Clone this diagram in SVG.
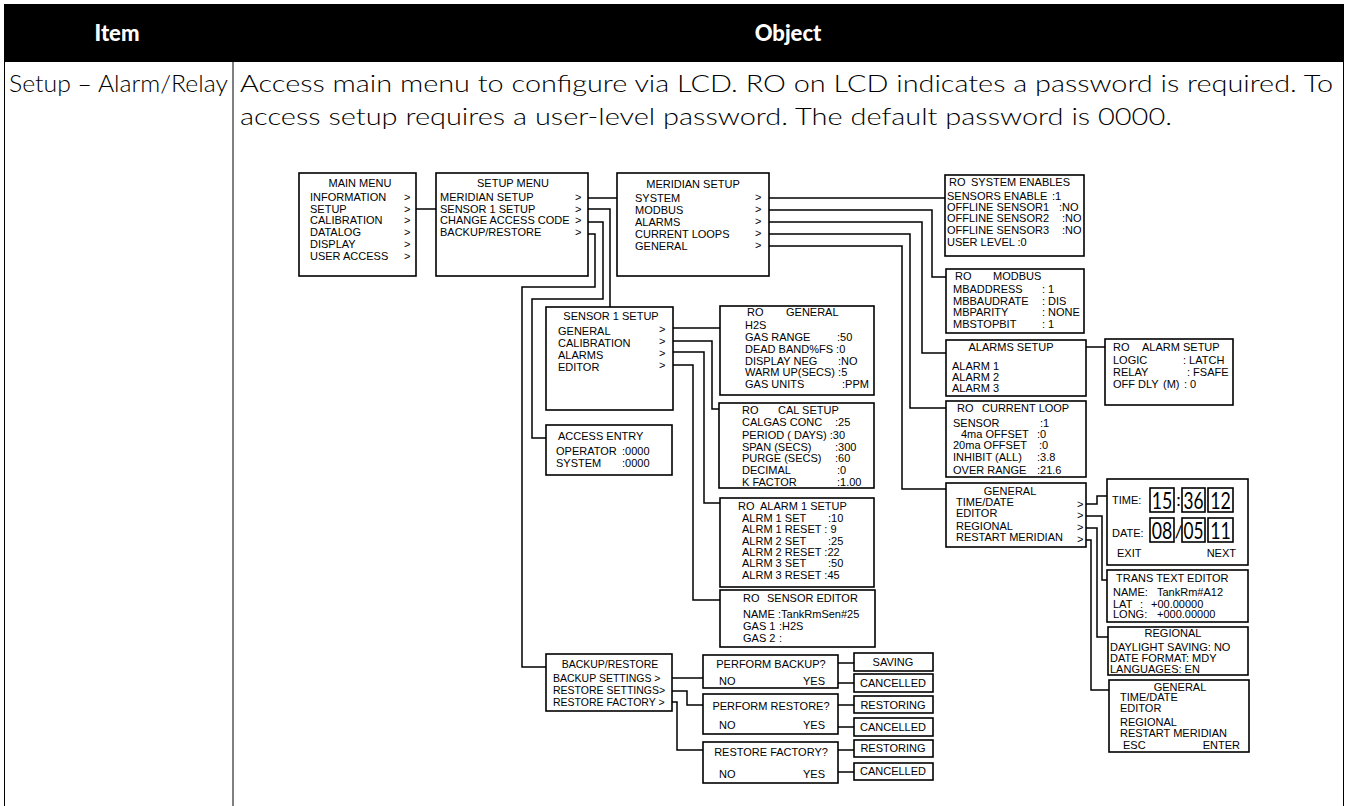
<svg xmlns="http://www.w3.org/2000/svg" width="1348" height="806" viewBox="0 0 1348 806">
<style>
.hd{font-family:Lato,"Liberation Sans",sans-serif;font-weight:900;font-size:22px;fill:#fff;text-anchor:middle}
.rw{font-family:Lato,"Liberation Sans",sans-serif;font-weight:300;font-size:23px;fill:#000}
text.t,.t text{font-family:"Liberation Sans",Arial,sans-serif;font-size:11px;fill:#000}
.m{text-anchor:middle}
.e{text-anchor:end}
.b{fill:#fff;stroke:#000;stroke-width:1.6}
.t text.dg{font-family:Lato,"Liberation Sans",sans-serif;font-weight:400;font-size:24px;fill:#000;text-anchor:middle}
.t text.sep{font-family:Lato,"Liberation Sans",sans-serif;font-size:18px;fill:#000;text-anchor:middle}
#connectors path{fill:none;stroke:#000;stroke-width:1.5}
.tb{stroke:#000;stroke-width:1;fill:none}
.sm text{font-size:10.5px}
</style>
<g id="table">
<rect x="4" y="4" width="1340" height="58" fill="#000"/>
<text class="hd" x="117" y="41">Item</text>
<text class="hd" x="788" y="41">Object</text>
<path class="tb" d="M4.5,62V806M233,62V806M1343.5,62V806"/>
<text class="rw" x="9" y="92" textLength="219" lengthAdjust="spacingAndGlyphs">Setup – Alarm/Relay</text>
<text class="rw" x="240" y="92" textLength="1093" lengthAdjust="spacingAndGlyphs">Access main menu to configure via LCD. RO on LCD indicates a password is required. To</text>
<text class="rw" x="240" y="125" textLength="932" lengthAdjust="spacingAndGlyphs">access setup requires a user-level password. The default password is 0000.</text>
</g>
<g id="connectors">
<path d="M416,209H436"/>
<path d="M588,198H617"/>
<path d="M588,209H610V307"/>
<path d="M588,222H603V299H532V438H546"/>
<path d="M588,234H595V287H522V667H546"/>
<path d="M769,198H945"/>
<path d="M769,210H932V277H946"/>
<path d="M769,222H922V353H946"/>
<path d="M769,234H910V408H946"/>
<path d="M769,246H902V489H946"/>
<path d="M1086,347H1105"/>
<path d="M673,328H720"/>
<path d="M673,341H712V409H719"/>
<path d="M673,352H704V503H720"/>
<path d="M673,365H693V600H720"/>
<path d="M1086,504H1097V496H1107"/>
<path d="M1086,516H1102V580H1107"/>
<path d="M1086,528H1097V637H1108"/>
<path d="M1086,540H1091V690H1109"/>
<path d="M672,678H703"/>
<path d="M672,691H687V705H703"/>
<path d="M672,702H677V750H703"/>
<path d="M838,663H854M838,683H854M838,705H854M838,727H854M838,750H854M838,772H854"/>
</g>
<g id="main-menu" class="t">
<rect class="b" x="299" y="173" width="117" height="103"/>
<text class="m" x="360" y="187">MAIN MENU</text>
<text x="310" y="201">INFORMATION</text><text x="404" y="201">&gt;</text>
<text x="310" y="212.5">SETUP</text><text x="404" y="212.5">&gt;</text>
<text x="310" y="224">CALIBRATION</text><text x="404" y="224">&gt;</text>
<text x="310" y="236">DATALOG</text><text x="404" y="236">&gt;</text>
<text x="310" y="248">DISPLAY</text><text x="404" y="248">&gt;</text>
<text x="310" y="259.5">USER ACCESS</text><text x="404" y="259.5">&gt;</text>
</g>
<g id="setup-menu" class="t">
<rect class="b" x="436" y="173" width="152" height="103"/>
<text class="m" x="513" y="187">SETUP MENU</text>
<text x="440" y="201">MERIDIAN SETUP</text><text x="575" y="201">&gt;</text>
<text x="440" y="212.5">SENSOR 1 SETUP</text><text x="575" y="212.5">&gt;</text>
<text x="440" y="224">CHANGE ACCESS CODE</text><text x="575" y="224">&gt;</text>
<text x="440" y="236">BACKUP/RESTORE</text><text x="575" y="236">&gt;</text>
</g>
<g id="meridian-setup" class="t">
<rect class="b" x="617" y="173" width="152" height="103"/>
<text class="m" x="693" y="188">MERIDIAN SETUP</text>
<text x="635" y="202">SYSTEM</text><text x="755" y="201">&gt;</text>
<text x="635" y="214">MODBUS</text><text x="755" y="213">&gt;</text>
<text x="635" y="226">ALARMS</text><text x="755" y="225">&gt;</text>
<text x="635" y="238">CURRENT LOOPS</text><text x="755" y="237">&gt;</text>
<text x="635" y="250">GENERAL</text><text x="755" y="249">&gt;</text>
</g>
<g id="system-enables" class="t">
<rect class="b" x="945" y="175" width="139" height="81"/>
<text x="949" y="186">RO</text><text x="971" y="186">SYSTEM ENABLES</text>
<text x="947" y="199.5">SENSORS ENABLE</text><text x="1052" y="199.5">:1</text>
<text x="947" y="211">OFFLINE SENSOR1</text><text x="1059" y="211">:NO</text>
<text x="947" y="222">OFFLINE SENSOR2</text><text x="1062" y="222">:NO</text>
<text x="947" y="234">OFFLINE SENSOR3</text><text x="1062" y="234">:NO</text>
<text x="947" y="246">USER LEVEL :0</text>
</g>
<g id="modbus" class="t">
<rect class="b" x="946" y="269" width="138" height="64"/>
<text x="955" y="280">RO</text><text x="993" y="280">MODBUS</text>
<text x="953" y="293">MBADDRESS</text><text x="1042" y="293">: 1</text>
<text x="953" y="305">MBBAUDRATE</text><text x="1042" y="305">: DIS</text>
<text x="953" y="316">MBPARITY</text><text x="1042" y="316">: NONE</text>
<text x="953" y="328">MBSTOPBIT</text><text x="1042" y="328">: 1</text>
</g>
<g id="alarms-setup" class="t">
<rect class="b" x="946" y="340" width="140" height="56"/>
<text class="m" x="1011" y="350.5">ALARMS SETUP</text>
<text x="952" y="370">ALARM 1</text>
<text x="952" y="381">ALARM 2</text>
<text x="952" y="392">ALARM 3</text>
</g>
<g id="ro-alarm-setup" class="t">
<rect class="b" x="1105" y="339" width="128" height="66"/>
<text x="1113" y="350.5">RO</text><text x="1142" y="350.5">ALARM SETUP</text>
<text x="1113" y="364">LOGIC</text><text x="1183" y="364">: LATCH</text>
<text x="1113" y="376">RELAY</text><text x="1187" y="376">: FSAFE</text>
<text x="1113" y="388">OFF DLY</text><text x="1163" y="388">(M)</text><text x="1184" y="388">: 0</text>
</g>
<g id="current-loop" class="t">
<rect class="b" x="946" y="401" width="140" height="76"/>
<text x="957" y="412">RO</text><text x="982" y="412">CURRENT LOOP</text>
<text x="953" y="427">SENSOR</text><text x="1040" y="427">:1</text>
<text x="961" y="438">4ma OFFSET</text><text x="1037" y="438">:0</text>
<text x="953" y="449">20ma OFFSET</text><text x="1039" y="449">:0</text>
<text x="953" y="461">INHIBIT (ALL)</text><text x="1037" y="461">:3.8</text>
<text x="953" y="474">OVER RANGE</text><text x="1037" y="474">:21.6</text>
</g>
<g id="general" class="t">
<rect class="b" x="946" y="483" width="140" height="64"/>
<text class="m" x="1010" y="495">GENERAL</text>
<text x="956" y="506">TIME/DATE</text><text x="1077" y="508">&gt;</text>
<text x="956" y="517">EDITOR</text><text x="1077" y="519">&gt;</text>
<text x="956" y="530">REGIONAL</text><text x="1077" y="531">&gt;</text>
<text x="956" y="541">RESTART MERIDIAN</text><text x="1077" y="543">&gt;</text>
</g>
<g id="time-date" class="t">
<rect class="b" x="1107" y="479" width="141" height="86"/>
<text x="1112" y="504">TIME:</text>
<text x="1112" y="537">DATE:</text>
<rect class="b" x="1150" y="488" width="24" height="24"/>
<rect class="b" x="1182" y="488" width="23" height="24"/>
<rect class="b" x="1208" y="488" width="25" height="24"/>
<rect class="b" x="1150" y="518" width="24" height="24"/>
<rect class="b" x="1182" y="518" width="23" height="24"/>
<rect class="b" x="1208" y="518" width="25" height="24"/>
<text class="dg" transform="translate(1162,509) scale(0.74,1)">15</text>
<text class="sep" x="1178.5" y="506">:</text>
<text class="dg" transform="translate(1193.5,509) scale(0.72,1)">36</text>
<text class="dg" transform="translate(1220.5,509) scale(0.74,1)">12</text>
<text class="dg" transform="translate(1162,539) scale(0.74,1)">08</text>
<text class="sep" x="1178.5" y="538">/</text>
<text class="dg" transform="translate(1193.5,539) scale(0.72,1)">05</text>
<text class="dg" transform="translate(1220.5,539) scale(0.74,1)">11</text>
<text x="1117" y="557">EXIT</text>
<text class="e" x="1236" y="557">NEXT</text>
</g>
<g id="trans-text-editor" class="t">
<rect class="b" x="1107" y="570" width="141" height="52"/>
<text x="1116" y="582">TRANS TEXT EDITOR</text>
<text x="1113" y="596">NAME:</text><text x="1157" y="596">TankRm#A12</text>
<text x="1113" y="608">LAT</text><text x="1140" y="608">:</text><text x="1151" y="608">+00.00000</text>
<text x="1113" y="618">LONG:</text><text x="1157" y="618">+000.00000</text>
</g>
<g id="regional" class="t">
<rect class="b" x="1108" y="627" width="140" height="48"/>
<text class="m" x="1173" y="637">REGIONAL</text>
<text x="1110" y="651">DAYLIGHT SAVING: NO</text>
<text x="1110" y="662">DATE FORMAT: MDY</text>
<text x="1110" y="673">LANGUAGES: EN</text>
</g>
<g id="general-2" class="t">
<rect class="b" x="1109" y="680" width="140" height="72"/>
<text class="m" x="1180" y="691">GENERAL</text>
<text x="1120" y="701">TIME/DATE</text>
<text x="1120" y="712">EDITOR</text>
<text x="1120" y="726">REGIONAL</text>
<text x="1120" y="737">RESTART MERIDIAN</text>
<text x="1123" y="749">ESC</text>
<text class="e" x="1240" y="749">ENTER</text>
</g>
<g id="sensor-1-setup" class="t">
<rect class="b" x="546" y="307" width="127" height="103"/>
<text class="m" x="611" y="320">SENSOR 1 SETUP</text>
<text x="558" y="335">GENERAL</text><text x="659" y="333">&gt;</text>
<text x="558" y="347">CALIBRATION</text><text x="659" y="345">&gt;</text>
<text x="558" y="359">ALARMS</text><text x="659" y="357">&gt;</text>
<text x="558" y="371">EDITOR</text><text x="659" y="369">&gt;</text>
</g>
<g id="ro-general" class="t">
<rect class="b" x="720" y="306" width="154" height="89"/>
<text x="747" y="316">RO</text><text x="786" y="316">GENERAL</text>
<text x="745" y="329">H2S</text>
<text x="745" y="341">GAS RANGE</text><text x="837" y="341">:50</text>
<text x="745" y="353">DEAD BAND%FS :0</text>
<text x="745" y="365">DISPLAY NEG</text><text x="838" y="365">:NO</text>
<text x="745" y="376">WARM UP(SECS) :5</text>
<text x="745" y="388">GAS UNITS</text><text x="842" y="388">:PPM</text>
</g>
<g id="cal-setup" class="t">
<rect class="b" x="719" y="403" width="155" height="85"/>
<text x="742" y="414">RO</text><text x="778" y="414">CAL SETUP</text>
<text x="742" y="426">CALGAS CONC</text><text x="835" y="426">:25</text>
<text x="742" y="439">PERIOD ( DAYS) :30</text>
<text x="742" y="451">SPAN (SECS)</text><text x="835" y="451">:300</text>
<text x="742" y="462">PURGE (SECS)</text><text x="835" y="462">:60</text>
<text x="742" y="474">DECIMAL</text><text x="837" y="474">:0</text>
<text x="742" y="486">K FACTOR</text><text x="837" y="486">:1.00</text>
</g>
<g id="access-entry" class="t">
<rect class="b" x="546" y="425" width="126" height="50"/>
<text x="558" y="440">ACCESS ENTRY</text>
<text x="556" y="455">OPERATOR</text><text x="622" y="455">:0000</text>
<text x="556" y="467">SYSTEM</text><text x="622" y="467">:0000</text>
</g>
<g id="alarm-1-setup" class="t">
<rect class="b" x="720" y="498" width="154" height="89"/>
<text x="738" y="510">RO</text><text x="760" y="510">ALARM 1 SETUP</text>
<text x="742" y="522">ALRM 1 SET</text><text x="828" y="522">:10</text>
<text x="742" y="533">ALRM 1 RESET : 9</text>
<text x="742" y="545">ALRM 2 SET</text><text x="828" y="545">:25</text>
<text x="742" y="556">ALRM 2 RESET :22</text>
<text x="742" y="567">ALRM 3 SET</text><text x="828" y="567">:50</text>
<text x="742" y="579">ALRM 3 RESET :45</text>
</g>
<g id="sensor-editor" class="t">
<rect class="b" x="720" y="590" width="155" height="57"/>
<text x="743" y="602">RO</text><text x="767" y="602">SENSOR EDITOR</text>
<text x="743" y="618">NAME</text><text x="778" y="618">:TankRmSen#25</text>
<text x="743" y="630">GAS 1</text><text x="779" y="630">:H2S</text>
<text x="743" y="642">GAS 2</text><text x="779" y="642">:</text>
</g>
<g id="backup-restore" class="t sm">
<rect class="b" x="546" y="654" width="126" height="57"/>
<text class="m" x="610" y="668">BACKUP/RESTORE</text>
<text x="553" y="682">BACKUP SETTINGS &gt;</text>
<text x="553" y="694">RESTORE SETTINGS&gt;</text>
<text x="553" y="706">RESTORE FACTORY &gt;</text>
</g>
<g id="perform-backup" class="t">
<rect class="b" x="703" y="655" width="135" height="33"/>
<text class="m" x="771" y="668">PERFORM BACKUP?</text>
<text x="719" y="685">NO</text><text x="803" y="685">YES</text>
</g>
<g id="perform-restore" class="t">
<rect class="b" x="703" y="694" width="135" height="40"/>
<text class="m" x="771" y="710">PERFORM RESTORE?</text>
<text x="719" y="729">NO</text><text x="803" y="729">YES</text>
</g>
<g id="restore-factory" class="t">
<rect class="b" x="703" y="742" width="135" height="41"/>
<text class="m" x="771" y="756">RESTORE FACTORY?</text>
<text x="719" y="778">NO</text><text x="803" y="778">YES</text>
</g>
<g id="saving" class="t"><rect class="b" x="854" y="653" width="79" height="18"/><text class="m" x="893" y="666">SAVING</text></g>
<g id="cancelled-1" class="t"><rect class="b" x="854" y="674" width="79" height="18"/><text class="m" x="893" y="687">CANCELLED</text></g>
<g id="restoring-1" class="t"><rect class="b" x="854" y="696" width="79" height="17"/><text class="m" x="893" y="709">RESTORING</text></g>
<g id="cancelled-2" class="t"><rect class="b" x="854" y="718" width="79" height="18"/><text class="m" x="893" y="731">CANCELLED</text></g>
<g id="restoring-2" class="t"><rect class="b" x="854" y="740" width="79" height="17"/><text class="m" x="893" y="752">RESTORING</text></g>
<g id="cancelled-3" class="t"><rect class="b" x="854" y="763" width="79" height="17"/><text class="m" x="893" y="775">CANCELLED</text></g>
</svg>
